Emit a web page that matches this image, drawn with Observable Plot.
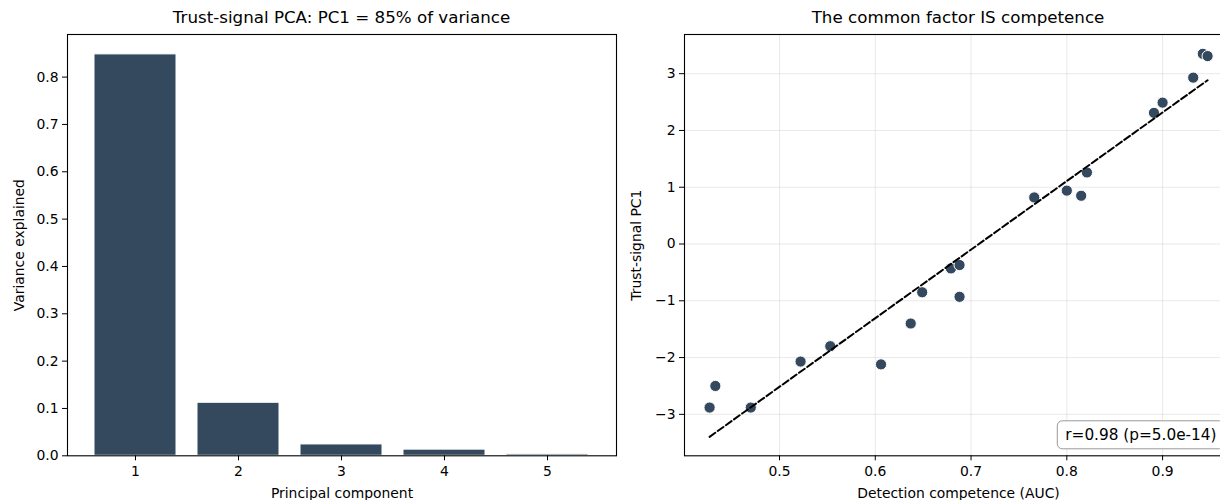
<!DOCTYPE html>
<html><head><meta charset="utf-8">
<script src="https://cdn.jsdelivr.net/npm/d3@7"></script>
<script src="https://cdn.jsdelivr.net/npm/@observablehq/plot@0.6"></script>
<style>
body{margin:0;background:#fff;font-family:"DejaVu Sans",sans-serif;}
#wrap{position:relative;width:1220px;height:500px;overflow:hidden;background:#fff;}
.title{position:absolute;top:7px;font-size:16.7px;color:#000;text-align:center;white-space:nowrap;line-height:20px;}
.panel{position:absolute;top:30px;width:620px;height:470px;}
.panel svg{max-width:none !important;}
</style></head><body>
<div id="wrap">
<div class="title" style="left:67px;width:549px">Trust-signal PCA: PC1 = 85% of variance</div>
<div class="title" style="left:684px;width:548px">The common factor IS competence</div>
<div class="panel" id="p1" style="left:0"></div>
<div class="panel" id="p2" style="left:620px"></div>
</div>
<script>
// Left panel: explained variance per principal component
const components = ["1", "2", "3", "4", "5"];
const varianceExplained = [0.848, 0.112, 0.024, 0.013, 0.003];
const yTicksLeft = [0, 0.1, 0.2, 0.3, 0.4, 0.5, 0.6, 0.7, 0.8];

// Right panel: detection competence vs trust-signal PC1
const auc = [0.427, 0.433, 0.470, 0.522, 0.553, 0.606, 0.637, 0.649, 0.679, 0.688, 0.688, 0.766, 0.800, 0.815, 0.821, 0.891, 0.900, 0.932, 0.942, 0.947];
const pc1 = [-2.88, -2.50, -2.88, -2.07, -1.80, -2.12, -1.40, -0.85, -0.43, -0.37, -0.93, 0.82, 0.94, 0.85, 1.26, 2.31, 2.49, 2.93, 3.35, 3.31];
const xTicksRight = [0.5, 0.6, 0.7, 0.8, 0.9];
const yTicksRight = [-3, -2, -1, 0, 1, 2, 3];
const annotation = "r=0.98 (p=5.0e-14)";

const barColor = "#34495e";
const FS = 13.9;
const baseStyle = {fontFamily: "'DejaVu Sans', sans-serif", fontSize: FS + "px", color: "#000", background: "#fff", overflow: "visible", maxWidth: "none"};

const barData = components.map((c, i) => ({pc: c, v: varianceExplained[i]}));
const chart1 = Plot.plot({
  width: 620, height: 470,
  marginLeft: 67, marginRight: 4, marginTop: 4, marginBottom: 44.7,
  style: baseStyle,
  x: {type: "band", domain: components, paddingInner: 0.2, paddingOuter: 0.24},
  y: {domain: [0, 0.89]},
  marks: [
    Plot.barY(barData, {x: "pc", y: "v", fill: barColor, stroke: "#ffffff", strokeWidth: 1}),
    Plot.frame({stroke: "#000", strokeWidth: 1.1}),
    Plot.axisX({tickSize: 5, tickPadding: 5, fontSize: FS, label: "Principal component", labelAnchor: "center", labelArrow: "none", labelOffset: 42}),
    Plot.axisY({ticks: yTicksLeft, tickFormat: ".1f", tickSize: 5, tickPadding: 4, fontSize: FS, label: "Variance explained", labelAnchor: "center", labelArrow: "none", labelOffset: 53})
  ]
});
document.getElementById("p1").appendChild(chart1);

const pts = auc.map((a, i) => ({auc: a, pc1: pc1[i]}));
const chart2 = Plot.plot({
  width: 620, height: 470,
  marginLeft: 64, marginRight: 8, marginTop: 4, marginBottom: 44.7,
  style: baseStyle,
  x: {domain: [0.4008, 0.973]},
  y: {domain: [-3.73, 3.69]},
  marks: [
    Plot.gridX({ticks: xTicksRight, stroke: "#b0b0b0", strokeOpacity: 0.35, strokeWidth: 0.8}),
    Plot.gridY({ticks: yTicksRight, stroke: "#b0b0b0", strokeOpacity: 0.35, strokeWidth: 0.8}),
    Plot.dot(pts, {x: "auc", y: "pc1", r: 5.6, fill: barColor, stroke: "#ffffff", strokeWidth: 1}),
    Plot.linearRegressionY(pts, {x: "auc", y: "pc1", ci: 0, stroke: "#000", strokeWidth: 2, strokeDasharray: "7,3"}),
    Plot.frame({stroke: "#000", strokeWidth: 1.1}),
    Plot.text([annotation], {text: d => d, frameAnchor: "bottom-right", textAnchor: "end", dx: -16, dy: -16, fontSize: 15.3, fill: "#000", className: "annot"}),
    Plot.axisX({ticks: xTicksRight, tickFormat: ".1f", tickSize: 5, tickPadding: 5, fontSize: FS, label: "Detection competence (AUC)", labelAnchor: "center", labelArrow: "none", labelOffset: 42}),
    Plot.axisY({ticks: yTicksRight, tickSize: 5, tickPadding: 4, fontSize: FS, label: "Trust-signal PC1", labelAnchor: "center", labelArrow: "none", labelOffset: 53})
  ]
});
document.getElementById("p2").appendChild(chart2);

// rounded box behind the annotation
const annot = d3.select(chart2).select("g.annot");
const t = annot.select("text").node();
if (t) {
  const bb = t.getBBox();
  const tr = t.getAttribute("transform");
  annot.insert("rect", "text")
    .attr("transform", tr)
    .attr("x", bb.x - 8).attr("y", bb.y - 5)
    .attr("width", bb.width + 16).attr("height", bb.height + 10)
    .attr("rx", 5).attr("ry", 5)
    .attr("fill", "#fff").attr("stroke", "#999").attr("stroke-width", 1);
}
</script>
</body></html>
